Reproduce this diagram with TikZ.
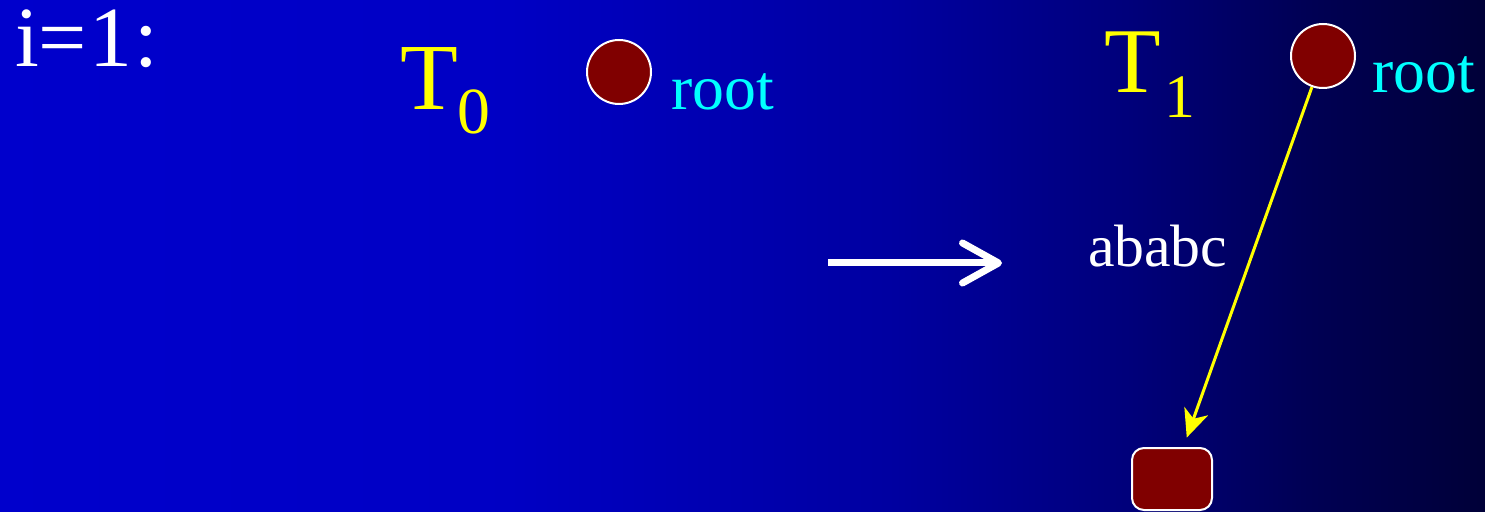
\documentclass[tikz,border=0pt]{standalone}
\usepackage{fontspec}
\setmainfont{Liberation Serif}
\usetikzlibrary{arrows.meta}

% slide background: bright blue on the left fading to dark navy on the right
\pgfdeclarehorizontalshading{slidebg}{100bp}{
  rgb(0bp)=(0,0,0.80);
  rgb(25bp)=(0,0,0.80);
  rgb(42bp)=(0,0,0.77);
  rgb(55bp)=(0,0,0.63);
  rgb(63bp)=(0,0,0.48);
  rgb(69bp)=(0,0,0.33);
  rgb(75bp)=(0,0,0.22);
  rgb(100bp)=(0,0,0.22)}

\definecolor{nodered}{RGB}{128,0,0}
\definecolor{labelcyan}{RGB}{0,255,255}
\definecolor{treeyellow}{RGB}{255,255,0}

\tikzset{
  txt/.style={inner sep=0pt, outer sep=0pt, anchor=base west},
  rootnode/.style={circle, minimum size=64bp, inner sep=0pt,
    fill=nodered, draw=white, line width=2bp},
  leafnode/.style={rectangle, minimum width=80bp, minimum height=62bp,
    inner sep=0pt, rounded corners=12bp, fill=nodered, draw=white, line width=2bp},
  edge/.style={draw=treeyellow, line width=3bp,
    -{Stealth[length=28bp,width=25bp,inset=8bp]}, shorten >=10bp},
  step arrow/.style={draw=white, line width=7bp,
    -{Straight Barb[round,length=36bp,width=40bp]}}
}

\begin{document}
\begin{tikzpicture}[x=1bp,y=-1bp]
  \useasboundingbox (0,0) rectangle (1485,512);
  \shade[shading=slidebg] (0,0) rectangle (1485,512);

  % iteration label
  \node[txt, text=white, font=\fontsize{86}{86}\selectfont] (iter) at (15,67)
    {i=\kern2bp 1\kern3bp:};

  % tree before the step
  \node[txt, text=treeyellow, font=\fontsize{95}{95}\selectfont] (t0) at (400,110)
    {T\raisebox{-24bp}{\fontsize{66}{66}\selectfont 0}};
  \node[rootnode] (r0) at (619,72) {};
  \node[txt, text=labelcyan, font=\fontsize{64}{64}\selectfont] (root0) at (671,110) {root};

  % step arrow
  \coordinate (sa) at (828,263);
  \coordinate (sb) at (1002,263);
  \draw[step arrow] (sa) -- (sb);

  % tree after the step
  \node[txt, text=treeyellow, font=\fontsize{93}{93}\selectfont] (t1) at (1104,93)
    {T\kern4bp\raisebox{-25bp}{\fontsize{62}{62}\selectfont 1}};
  \node[rootnode] (r1) at (1323,56) {};
  \node[txt, text=labelcyan, font=\fontsize{64}{64}\selectfont] (root1) at (1372,93) {root};
  \node[leafnode] (leaf) at (1172,479) {};
  \draw[edge] (r1) -- (leaf);
  \node[txt, text=white, font=\fontsize{60}{60}\selectfont] (lab) at (1088,267) {ababc};
\end{tikzpicture}
\end{document}
